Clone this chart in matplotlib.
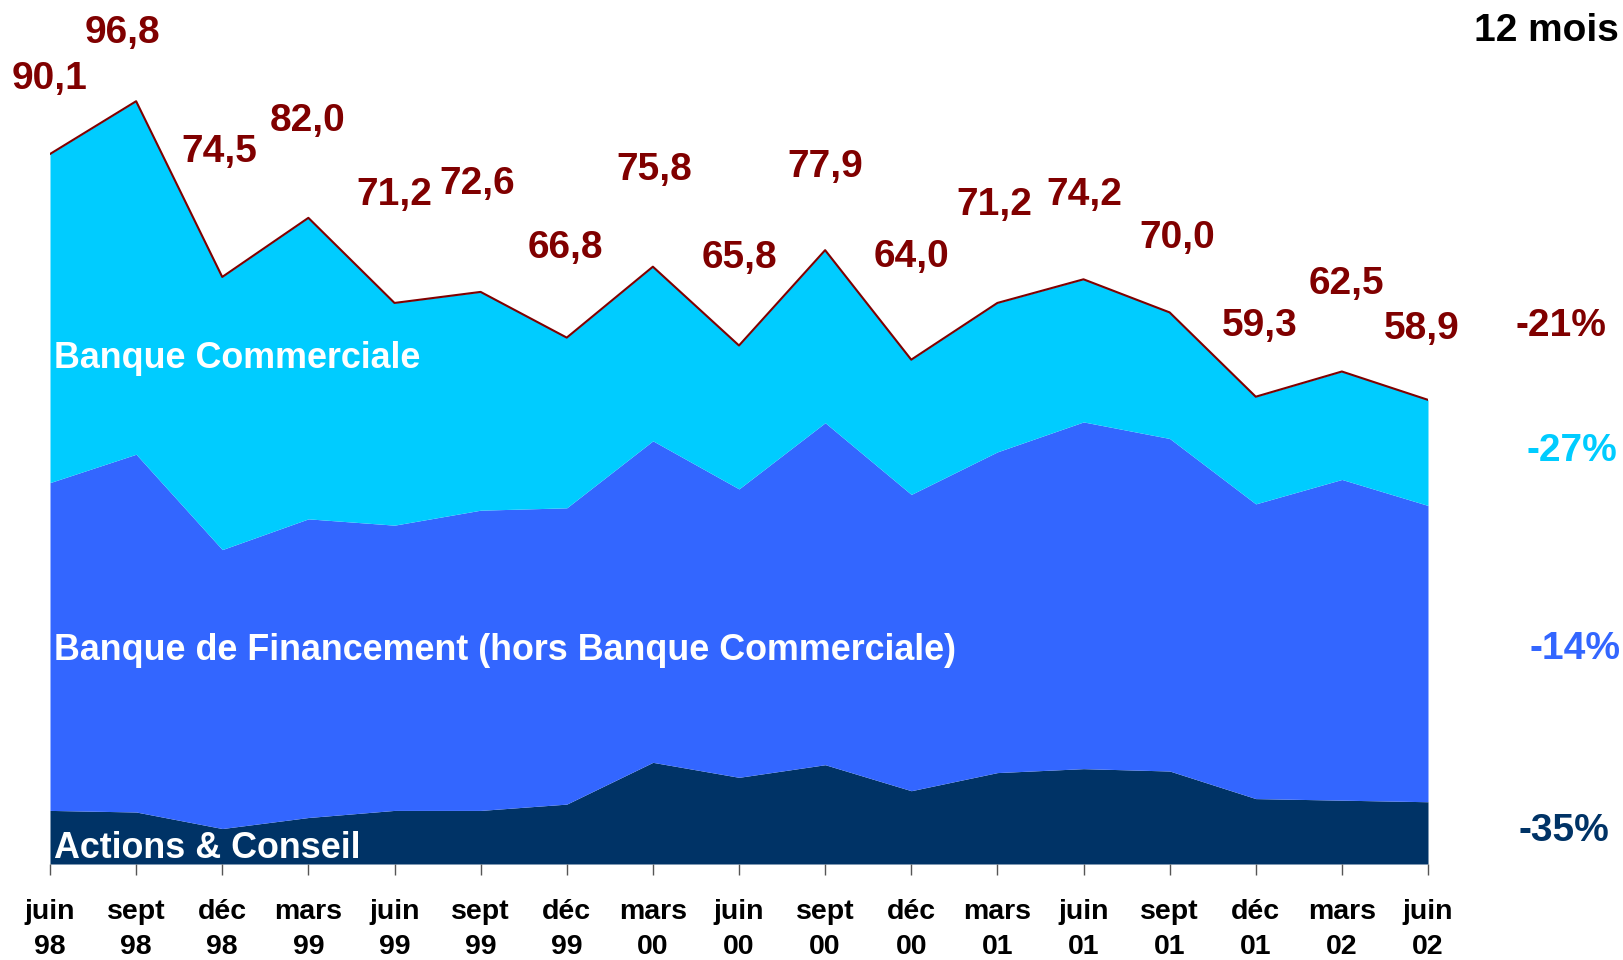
import matplotlib
matplotlib.use("Agg")
import matplotlib.pyplot as plt
import numpy as np

periods = ["juin\n98", "sept\n98", "déc\n98", "mars\n99", "juin\n99", "sept\n99", "déc\n99",
           "mars\n00", "juin\n00", "sept\n00", "déc\n00", "mars\n01", "juin\n01", "sept\n01",
           "déc\n01", "mars\n02", "juin\n02"]
total = [90.1, 96.8, 74.5, 82.0, 71.2, 72.6, 66.8, 75.8, 65.8, 77.9, 64.0, 71.2, 74.2, 70.0, 59.3, 62.5, 58.9]
actions_conseil = [6.8, 6.6, 4.5, 5.9, 6.8, 6.8, 7.6, 12.9, 11.0, 12.6, 9.3, 11.6, 12.1, 11.8, 8.3, 8.1, 7.9]
ac_plus_financement = [48.4, 52.0, 39.9, 43.8, 43.0, 44.9, 45.2, 53.7, 47.6, 56.0, 46.9, 52.3, 56.1, 54.0, 45.7, 48.8, 45.5]
total_labels = ["90,1", "96,8", "74,5", "82,0", "71,2", "72,6", "66,8", "75,8", "65,8", "77,9",
                "64,0", "71,2", "74,2", "70,0", "59,3", "62,5", "58,9"]
series_names = ["Banque Commerciale", "Banque de Financement (hors Banque Commerciale)", "Actions & Conseil"]
changes = ["-21%", "-27%", "-14%", "-35%"]

# label offsets in pixels (style)
lab_dx = [0, -13, -3, -1, 0, -3, -1, 1, 0, 0, 0, -3, 1, 7, 4, 4, -6]
lab_dy = [72, 66, 121, 94, 104, 104, 87, 93, 85, 80, 99, 95, 81, 72, 68, 85, 68]

C_BC = "#00CCFF"
C_BF = "#3366FF"
C_AC = "#003366"
C_TOT = "#800000"

plt.rcParams['font.family'] = ['Liberation Sans', 'DejaVu Sans']

fig = plt.figure(figsize=(16.23, 9.6), dpi=100)
ax = fig.add_axes([50/1623, 0.1, (1428-50)/1623, 0.9])
x = np.arange(len(periods))
ac = np.array(actions_conseil)
bf = np.array(ac_plus_financement)
tot = np.array(total)

ax.fill_between(x, 0, ac, color=C_AC, lw=0)
ax.fill_between(x, ac, bf, color=C_BF, lw=0)
ax.fill_between(x, bf, tot, color=C_BC, lw=0)
ax.plot(x, tot, color=C_TOT, lw=1.5)

ax.set_xlim(0, len(periods) - 1)
ax.set_ylim(0, 864 / 7.88)
for s in ax.spines.values():
    s.set_visible(False)
ax.set_yticks([])
ax.set_xticks(x)
ax.set_xticklabels(periods, fontsize=20.5, fontweight='bold', linespacing=1.45)
ax.tick_params(axis='x', length=8, width=1, color='#555555', pad=17)

for i in range(len(x)):
    ax.annotate(total_labels[i], (x[i], tot[i]), xytext=(lab_dx[i] * 1.035, lab_dy[i] * 1.035),
                textcoords='offset pixels', ha='center', va='center', fontsize=28,
                fontweight='bold', color=C_TOT, annotation_clip=False)

fig.text(54/1623, 1 - 359/960, series_names[0], color='white', fontsize=25.8, fontweight='bold', va='center')
fig.text(54/1623, 1 - 650/960, series_names[1], color='white', fontsize=25.8, fontweight='bold', va='center')
fig.text(54/1623, 1 - 848/960, series_names[2], color='white', fontsize=25.8, fontweight='bold', va='center')

pct_pos = [(1561, 326, C_TOT), (1572, 451, C_BC), (1575, 649, C_BF), (1564, 831, C_AC)]
for (px, py, c), t in zip(pct_pos, changes):
    fig.text(px/1623, 1 - py/960, t, color=c, fontsize=28, fontweight='bold', ha='center', va='center')

fig.text(1619/1623, 1 - 31/960, "12 mois", color='black', fontsize=28, fontweight='bold', ha='right', va='center')

fig.savefig("out.png", dpi=100)
